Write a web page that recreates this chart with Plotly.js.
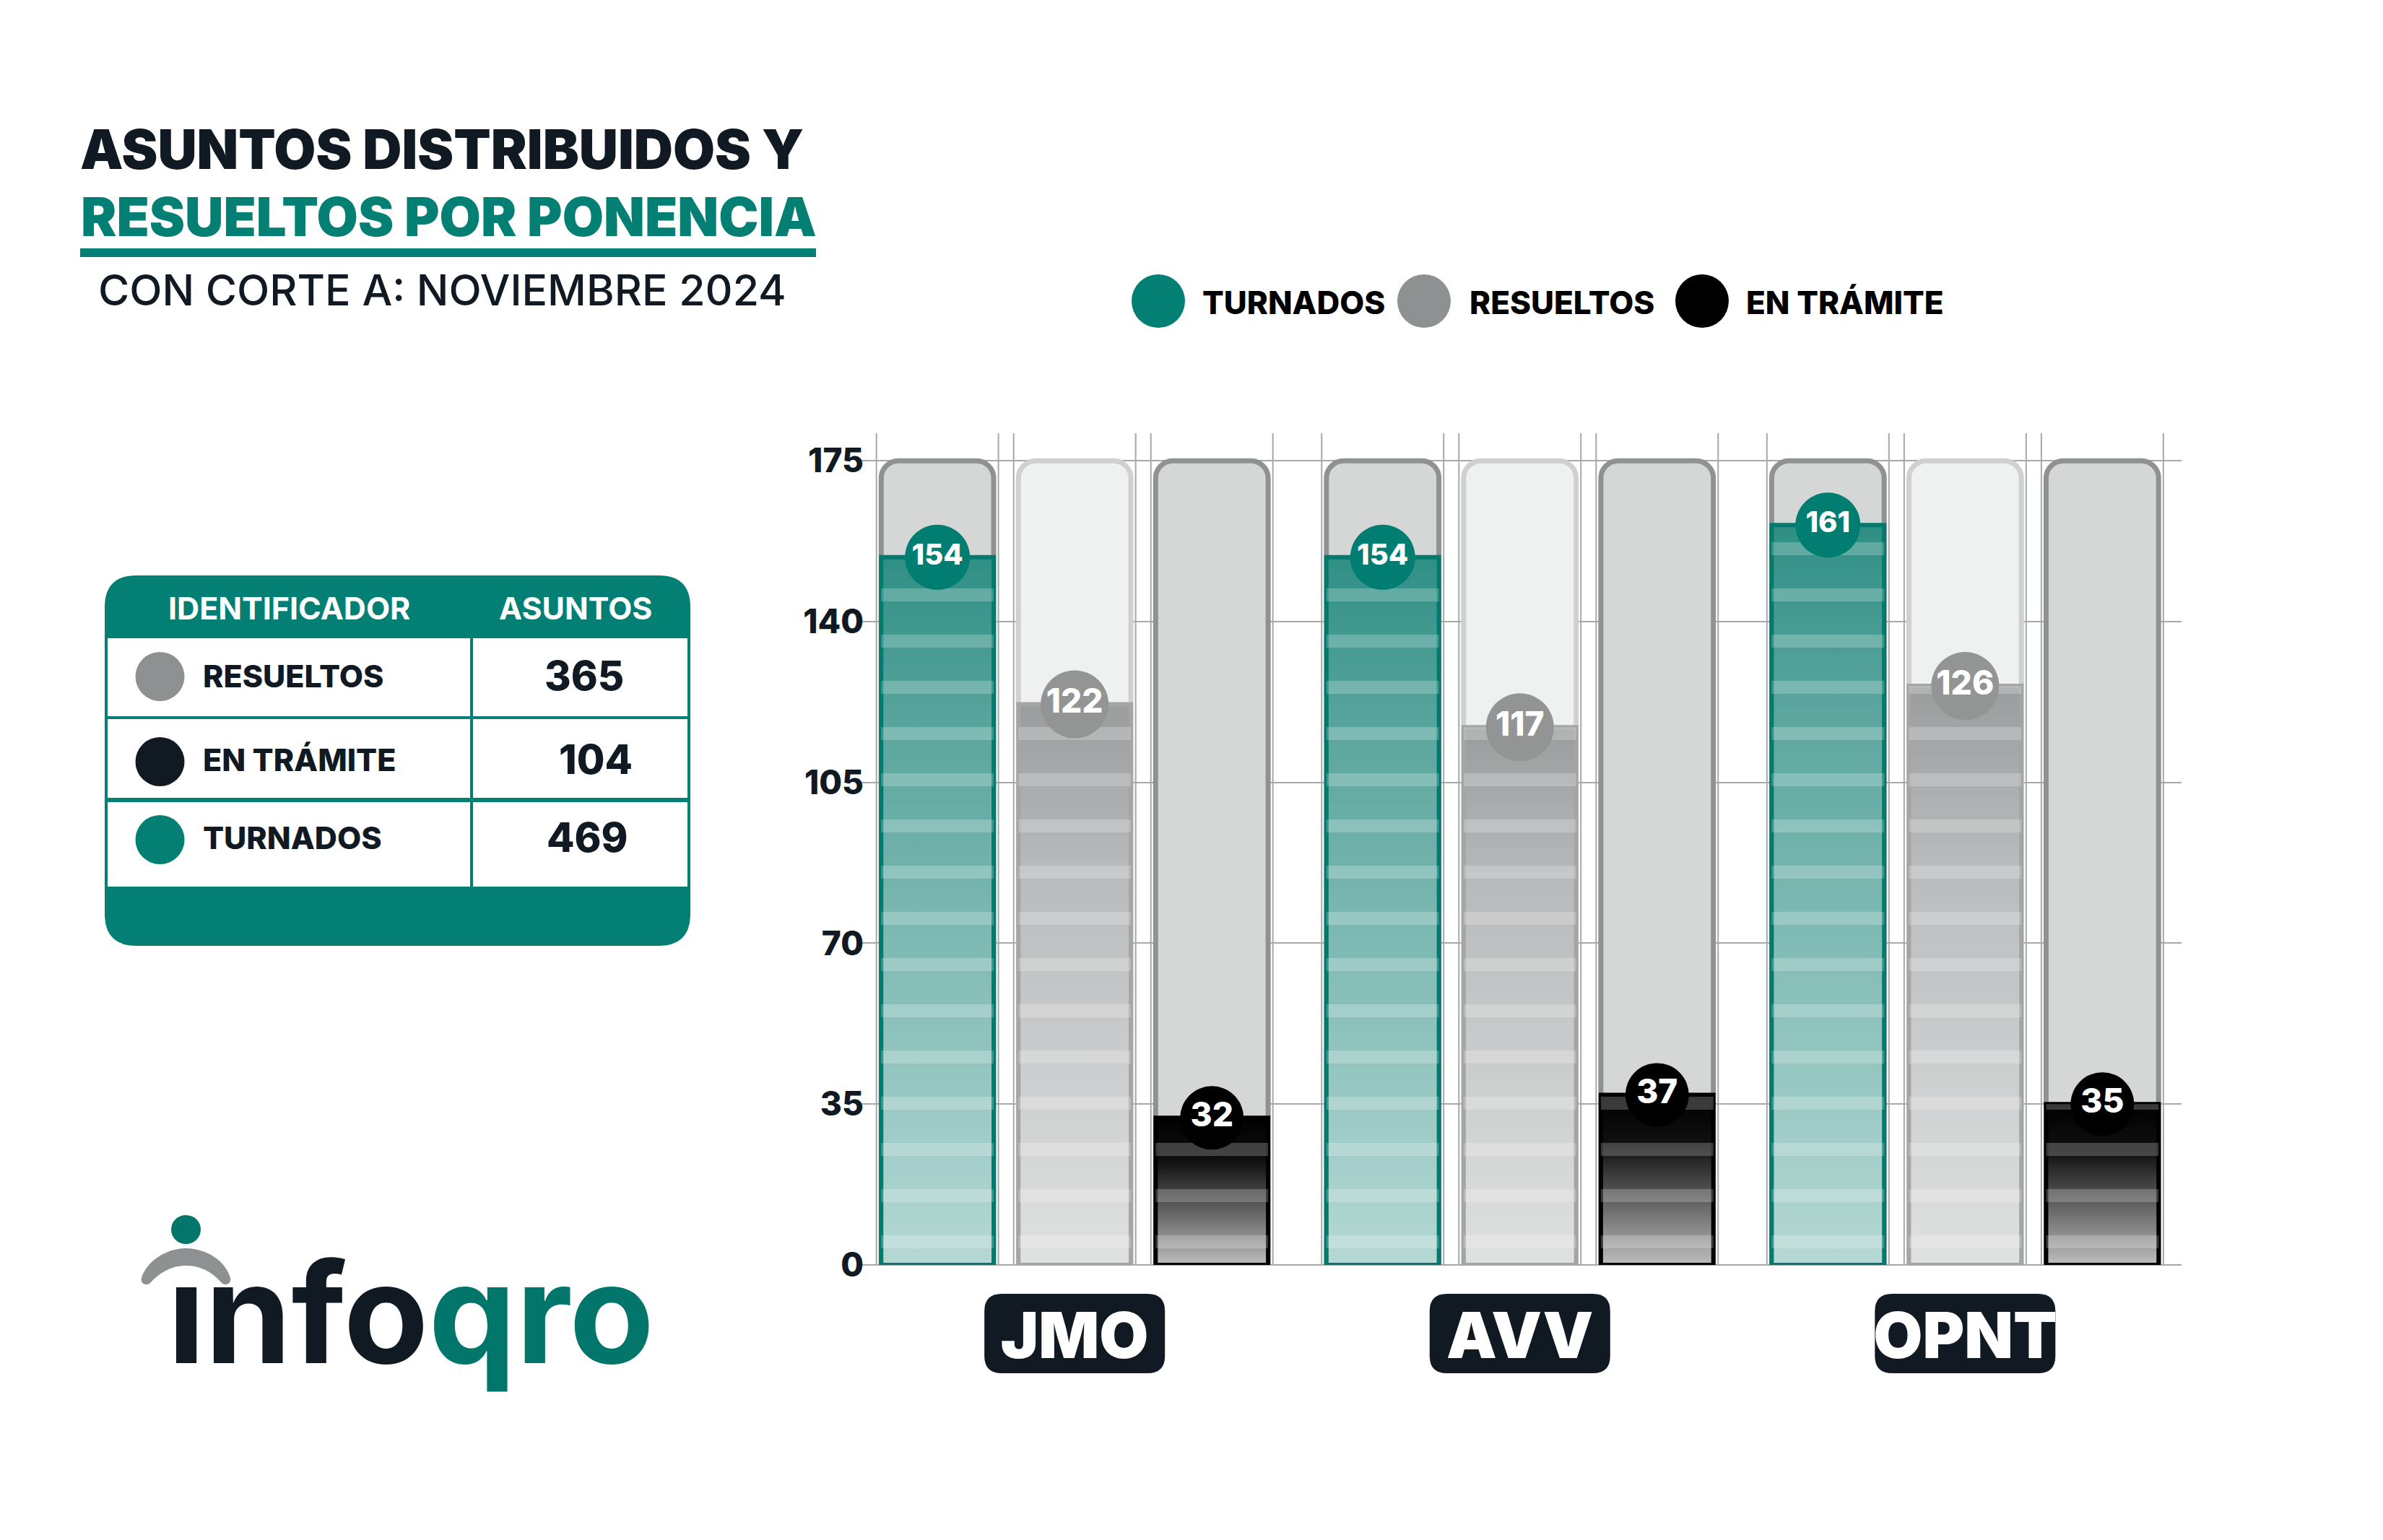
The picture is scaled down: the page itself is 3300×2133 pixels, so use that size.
<!DOCTYPE html>
<html>
<head>
<meta charset="utf-8">
<script src="https://cdn.plot.ly/plotly-3.0.1.min.js"></script>
<style>
html,body{margin:0;padding:0;background:#ffffff;}
#chart{width:3300px;height:2133px;}
</style>
</head>
<body>
<div id="chart"></div>
<script>
// ---------------- DATA ----------------
const ponencias = ['JMO', 'AVV', 'OPNT'];
const turnados  = [154, 154, 161];
const resueltos = [122, 117, 126];
const enTramite = [32, 37, 35];
const seriesNames = ['TURNADOS', 'RESUELTOS', 'EN TRÁMITE'];
const yTickVals = [0, 35, 70, 105, 140, 175];
const axisMax = 175;
const tableRows = ['RESUELTOS', 'EN TRÁMITE', 'TURNADOS'];
const sum = a => a.reduce((s, v) => s + v, 0);
const tableTotals = [sum(resueltos), sum(enTramite), sum(turnados)];

// ---------------- LAYOUT HELPERS ----------------
const FIG_W = 3300, FIG_H = 2133;
const L = 1191, R = 3021, T = 600, B = 1752;
const PW = R - L, PH = B - T;
const xp = px => (px - L) / PW;
const yp = py => (B - py) / PH;
const FONT = 'Inter, "Noto Sans", "DejaVu Sans", sans-serif';
const TEAL = '#047f74', DARK = '#111a22', GRAY = '#8e9191';

const bargap = 0.0754, bargroupgap = 0.18;
const slotW = (1 - bargap) / 3;
const gridOffset = 0.137;

function rrPathPx(x0, y0, x1, y1, r) {
  const P = (x, y) => xp(x) + ',' + yp(y);
  return 'M' + P(x0 + r, y0) + ' L' + P(x1 - r, y0) + ' Q' + P(x1, y0) + ' ' + P(x1, y0 + r) +
         ' L' + P(x1, y1 - r) + ' Q' + P(x1, y1) + ' ' + P(x1 - r, y1) +
         ' L' + P(x0 + r, y1) + ' Q' + P(x0, y1) + ' ' + P(x0, y1 - r) +
         ' L' + P(x0, y0 + r) + ' Q' + P(x0, y0) + ' ' + P(x0 + r, y0) + ' Z';
}
function rect(x0, y0, x1, y1, color) {
  return {type: 'rect', xref: 'paper', yref: 'paper', x0: xp(x0), x1: xp(x1), y0: yp(y1), y1: yp(y0),
          fillcolor: color, line: {width: 0}, layer: 'below'};
}
function circ(cx, cy, r, color) {
  return {type: 'circle', xref: 'paper', yref: 'paper', x0: xp(cx - r), x1: xp(cx + r), y0: yp(cy + r), y1: yp(cy - r),
          fillcolor: color, line: {width: 0}, layer: 'below'};
}
function ann(text, px, py, size, color, weight, xanchor) {
  return {text: text, xref: 'paper', yref: 'paper', x: xp(px), y: yp(py), xanchor: xanchor || 'left', yanchor: 'middle',
          showarrow: false, font: {family: FONT, size: size, color: color, weight: weight}};
}

// ---------------- TRACES ----------------
const trackVals = ponencias.map(() => axisMax);
const traces = [];
const trackStyles = [
  {color: '#d5d7d7', line: '#8f9292'},
  {color: '#eff0f0', line: '#cfd1d1'},
  {color: '#d5d7d7', line: '#8f9292'}
];
trackStyles.forEach((s, k) => {
  traces.push({type: 'bar', x: ponencias, y: trackVals, offsetgroup: String(k + 1), name: 'fondo',
    marker: {color: s.color, line: {color: s.line, width: 7}, cornerradius: 24},
    hoverinfo: 'skip', showlegend: false});
});
const valueSeries = [turnados, resueltos, enTramite];
const barStyles = [
  {color: '#6fb3ab', line: '#047a6e'},
  {color: '#c5c6c7', line: '#a3a5a6'},
  {color: '#3a3a3a', line: '#000000'}
];
valueSeries.forEach((vals, k) => {
  traces.push({type: 'bar', x: ponencias, y: vals, offsetgroup: String(k + 1), name: seriesNames[k],
    marker: {color: barStyles[k].color, line: {color: barStyles[k].line, width: 6}, cornerradius: 30},
    hovertemplate: '%{x}: %{y}<extra>' + seriesNames[k] + '</extra>', showlegend: false});
});
valueSeries.forEach((vals, k) => {
  traces.push({type: 'bar', x: ponencias, y: vals, offsetgroup: String(k + 1), name: seriesNames[k] + ' ',
    marker: {color: 'rgba(255,255,255,0)', line: {width: 0}, cornerradius: 30,
      pattern: {shape: '-', fillmode: 'replace', fgcolor: '#ffffff', fgopacity: 0.22, size: 64, solidity: 0.28}},
    hoverinfo: 'skip', showlegend: false});
});
const labelStyles = [
  {color: '#017e71', size: 90, font: 40},
  {color: '#939595', size: 94, font: 46},
  {color: '#000000', size: 88, font: 46}
];
valueSeries.forEach((vals, k) => {
  traces.push({type: 'scatter', mode: 'markers+text', x: ponencias, y: vals, offsetgroup: String(k + 1),
    name: seriesNames[k], text: vals.map(String), textposition: 'middle center',
    textfont: {family: FONT, size: labelStyles[k].font, color: '#ffffff', weight: 800},
    marker: {size: labelStyles[k].size, color: labelStyles[k].color, line: {width: 0}},
    cliponaxis: false, hoverinfo: 'skip', showlegend: false});
});

// ---------------- SHAPES ----------------
const shapes = [];
ponencias.forEach((p, i) => {
  for (let k = 0; k < 3; k++) {
    const c = i + (k - 1) * slotW;
    [-1, 1].forEach(sg => {
      shapes.push({type: 'line', xref: 'x', yref: 'paper', x0: c + sg * gridOffset, x1: c + sg * gridOffset,
        y0: 0, y1: 1, line: {color: '#a6a9a9', width: 2}, layer: 'below'});
    });
  }
});
const bw = 250, bh = 110, br = 24;
const boxPath = `M ${-bw/2+br},${-bh/2} L ${bw/2-br},${-bh/2} Q ${bw/2},${-bh/2} ${bw/2},${-bh/2+br} L ${bw/2},${bh/2-br} Q ${bw/2},${bh/2} ${bw/2-br},${bh/2} L ${-bw/2+br},${bh/2} Q ${-bw/2},${bh/2} ${-bw/2},${bh/2-br} L ${-bw/2},${-bh/2+br} Q ${-bw/2},${-bh/2} ${-bw/2+br},${-bh/2} Z`;
ponencias.forEach((p, i) => {
  shapes.push({type: 'path', xref: 'x', yref: 'paper', xsizemode: 'pixel', ysizemode: 'pixel',
    xanchor: i, yanchor: yp(1847), path: boxPath, fillcolor: DARK, line: {width: 0}, layer: 'below'});
});
shapes.push(rect(111, 344, 1130, 356, TEAL));
const legendDots = [[1604, TEAL], [1972, GRAY], [2357, '#000000']];
legendDots.forEach(d => shapes.push(circ(d[0], 417, 37, d[1])));
shapes.push({type: 'path', xref: 'paper', yref: 'paper', path: rrPathPx(145, 797, 956, 1310, 44),
  fillcolor: TEAL, line: {width: 0}, layer: 'below'});
const rowsY = [[884, 992], [996, 1105], [1111, 1228]];
rowsY.forEach(r => {
  shapes.push(rect(149, r[0], 651, r[1], '#ffffff'));
  shapes.push(rect(655, r[0], 952, r[1], '#ffffff'));
});
const rowCircleY = [937, 1055, 1163];
const rowColors = [GRAY, DARK, TEAL];
rowCircleY.forEach((cy, j) => shapes.push(circ(221.5, cy, 34, rowColors[j])));
shapes.push({type: 'path', xref: 'paper', yref: 'paper', fillcolor: GRAY, line: {width: 0}, layer: 'below',
  path: (function () {
    const P = (x, y) => xp(x) + ',' + yp(y);
    return 'M' + P(196, 1770) + ' C' + P(204, 1745) + ' ' + P(232, 1729) + ' ' + P(258, 1729) +
      ' C' + P(284, 1729) + ' ' + P(312, 1745) + ' ' + P(319, 1770) +
      ' C' + P(321, 1777) + ' ' + P(313, 1782) + ' ' + P(307, 1777) +
      ' C' + P(296, 1764) + ' ' + P(280, 1753) + ' ' + P(258, 1753) +
      ' C' + P(236, 1753) + ' ' + P(220, 1764) + ' ' + P(208, 1777) +
      ' C' + P(202, 1782) + ' ' + P(194, 1777) + ' ' + P(196, 1770) + ' Z';
  })()});
shapes.push({type: 'circle', xref: 'paper', yref: 'paper', x0: xp(237), x1: xp(278), y0: yp(1723), y1: yp(1683),
  fillcolor: '#02766a', line: {width: 0}, layer: 'below'});

// ---------------- ANNOTATIONS ----------------
const annotations = [];
annotations.push(ann('RESUELTOS POR PONENCIA', 110, 300, 74, TEAL, 900));
annotations.push(ann('CON CORTE A: NOVIEMBRE 2024', 134, 401.5, 59, DARK, 500));
const legendTextX = [1663, 2033, 2416];
seriesNames.forEach((n, k) => annotations.push(ann(n, legendTextX[k], 419, 44, '#000000', 800)));
annotations.push(ann('IDENTIFICADOR', 400, 842, 43, '#ffffff', 700, 'center'));
annotations.push(ann('ASUNTOS', 797, 842, 43, '#ffffff', 700, 'center'));
const rowTextY = [936, 1052, 1160];
const totalsX = [809, 825, 813];
tableRows.forEach((n, j) => {
  annotations.push(ann(n, 279, rowTextY[j], 43, DARK, 800));
  annotations.push(ann(String(tableTotals[j]), totalsX[j], rowTextY[j], 56, DARK, 800, 'center'));
});
annotations.push(ann('ınfo<span style="color:#02766a">qro</span>', 230, 1818, 192, DARK, 700));

// ---------------- LAYOUT ----------------
const layout = {
  width: FIG_W, height: FIG_H,
  paper_bgcolor: '#ffffff', plot_bgcolor: 'rgba(0,0,0,0)',
  margin: {l: L, r: FIG_W - R, t: T, b: FIG_H - B, autoexpand: false},
  font: {family: FONT, color: DARK},
  title: {text: 'ASUNTOS DISTRIBUIDOS Y', xref: 'container', yref: 'container',
    x: 111 / FIG_W, xanchor: 'left', y: 1 - 208 / FIG_H, yanchor: 'middle',
    font: {family: FONT, size: 75, color: DARK, weight: 900}},
  barmode: 'group', bargap: bargap, bargroupgap: bargroupgap,
  scattermode: 'group',
  showlegend: false,
  xaxis: {type: 'category', range: [-0.482, 2.486], showgrid: false, zeroline: false, showline: false,
    ticks: '', ticklabelstandoff: 40, automargin: false,
    tickfont: {family: FONT, size: 88, color: '#ffffff', weight: 900}, fixedrange: true},
  yaxis: {range: [0, 181], tickvals: yTickVals, showgrid: true, gridcolor: '#a6a9a9', gridwidth: 2,
    zeroline: true, zerolinecolor: '#a6a9a9', zerolinewidth: 2, showline: false, ticks: '',
    ticklabelstandoff: -6, automargin: false,
    tickfont: {family: FONT, size: 46, color: DARK, weight: 800}, fixedrange: true},
  shapes: shapes,
  annotations: annotations
};

const gradients = [
  {id: 'gradTurnados', stops: [[0, '#2f8f85'], [0.25, '#5ba69e'], [1, '#b6d8d4']]},
  {id: 'gradResueltos', stops: [[0, '#9a9c9d'], [0.3, '#b9babb'], [1, '#dfe0e0']]},
  {id: 'gradTramite', stops: [[0, '#000000'], [0.3, '#111111'], [1, '#bdbdbd']]}
];

Plotly.newPlot('chart', traces, layout, {displayModeBar: false, staticPlot: true}).then(gd => {
  const NS = 'http://www.w3.org/2000/svg';
  const svg = gd.querySelector('svg.main-svg');
  let defs = svg.querySelector('defs');
  if (!defs) { defs = document.createElementNS(NS, 'defs'); svg.insertBefore(defs, svg.firstChild); }
  gradients.forEach(g => {
    const lg = document.createElementNS(NS, 'linearGradient');
    lg.setAttribute('id', g.id);
    lg.setAttribute('x1', '0'); lg.setAttribute('y1', '0');
    lg.setAttribute('x2', '0'); lg.setAttribute('y2', '1');
    g.stops.forEach(s => {
      const st = document.createElementNS(NS, 'stop');
      st.setAttribute('offset', String(s[0]));
      st.setAttribute('stop-color', s[1]);
      lg.appendChild(st);
    });
    defs.appendChild(lg);
  });
  const barTraces = svg.querySelectorAll('.barlayer .trace');
  [3, 4, 5].forEach((ti, k) => {
    if (!barTraces[ti]) return;
    barTraces[ti].querySelectorAll('path').forEach(p => { p.style.fill = 'url(#' + gradients[k].id + ')'; });
  });
});
</script>
</body>
</html>
